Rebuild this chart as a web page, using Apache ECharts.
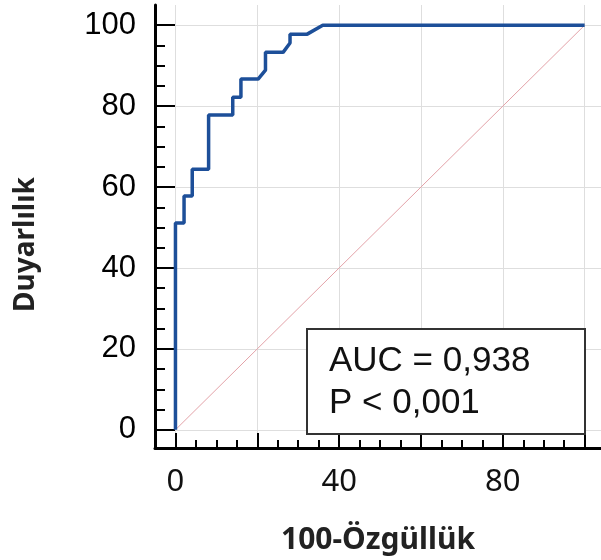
<!DOCTYPE html>
<html>
<head>
<meta charset="utf-8">
<title>ROC</title>
<script src="https://cdn.jsdelivr.net/npm/echarts@6/dist/echarts.min.js"></script>
<style>
  html, body { margin: 0; padding: 0; background: #fff; }
  #chart { width: 601px; height: 560px; }
</style>
</head>
<body>
<div id="chart"></div>
<script>
// ROC curve (100-specificity, sensitivity)
const rocX = [0, 0, 2.1, 2.1, 4.1, 4.1, 8.1, 8.1, 14, 14, 16, 16, 20.2, 22, 22, 26.3, 28, 28, 32.2, 36, 100]
const rocY = [0, 51.1, 51.1, 57.8, 57.8, 64.4, 64.4, 77.8, 77.8, 82.2, 82.2, 86.7, 86.7, 88.9, 93.3, 93.3, 95.6, 97.8, 97.8, 100, 100]
// reference diagonal
const refX = [0, 100]
const refY = [0, 100]
// ticks
const majorTicks = [0, 20, 40, 60, 80, 100]
const xTickLabels = [0, 40, 80]
const yTickLabels = [0, 20, 40, 60, 80, 100]
const statLines = ['AUC = 0,938', 'P < 0,001']

const zip = (xs, ys) => xs.map((x, i) => [x, ys[i]])

const chart = echarts.init(document.getElementById('chart'))

const axisCommon = {
  type: 'value',
  axisLine: { show: true, onZero: false, lineStyle: { color: '#000', width: 3 } },
  splitLine: { show: true, lineStyle: { color: '#dedede', width: 1 } },
  minorTick: { show: true, splitNumber: 4, lineStyle: { color: '#000', width: 2 } }
}

chart.setOption({
  animation: false,
  grid: { left: 155, right: 0, top: 5, bottom: 108 },
  xAxis: Object.assign({}, axisCommon, {
    min: -5,
    max: 104,
    name: '100-Özgüllük',
    nameLocation: 'middle',
    nameGap: 77,
    nameTextStyle: { fontFamily: 'Noto Sans', fontWeight: 'bold', fontSize: 30, color: '#222' },
    axisTick: { show: true, inside: true, length: 15, customValues: majorTicks, lineStyle: { color: '#000', width: 2 } },
    minorTick: Object.assign({}, axisCommon.minorTick, { length: 8 }),
    axisLabel: { customValues: xTickLabels, margin: 19, fontFamily: 'Noto Sans', fontSize: 31, color: '#111' }
  }),
  yAxis: Object.assign({}, axisCommon, {
    min: -4.5,
    max: 105,
    name: 'Duyarlılık',
    nameLocation: 'middle',
    nameGap: 115,
    nameTextStyle: { fontFamily: 'Noto Sans', fontWeight: 'bold', fontSize: 28, color: '#222', padding: [0, 36, 0, 0] },
    axisTick: { show: true, inside: true, length: 20, customValues: majorTicks, lineStyle: { color: '#000', width: 2 } },
    minorTick: Object.assign({}, axisCommon.minorTick, { length: 10 }),
    axisLabel: { customValues: yTickLabels, margin: 19, fontFamily: 'Liberation Sans', fontSize: 31, color: '#000' }
  }),
  series: [
    {
      name: 'reference',
      type: 'line',
      data: zip(refX, refY),
      showSymbol: false,
      silent: true,
      z: 1,
      lineStyle: { color: '#e3a2a8', width: 1 }
    },
    {
      name: 'ROC',
      type: 'line',
      data: zip(rocX, rocY),
      showSymbol: false,
      z: 3,
      lineStyle: { color: '#1d4f99', width: 3.5 }
    }
  ],
  graphic: [
    {
      type: 'rect',
      left: 306,
      top: 328,
      z: 10,
      shape: { width: 278, height: 105 },
      style: { fill: '#fff', stroke: '#333', lineWidth: 2 }
    },
    {
      type: 'text',
      left: 329,
      top: 344,
      z: 11,
      style: { text: statLines[0], fontFamily: 'Liberation Sans', fontSize: 35, fill: '#111' }
    },
    {
      type: 'text',
      left: 329,
      top: 386,
      z: 11,
      style: { text: statLines[1], fontFamily: 'Liberation Sans', fontSize: 35, fill: '#111' }
    }
  ]
})
</script>
</body>
</html>
